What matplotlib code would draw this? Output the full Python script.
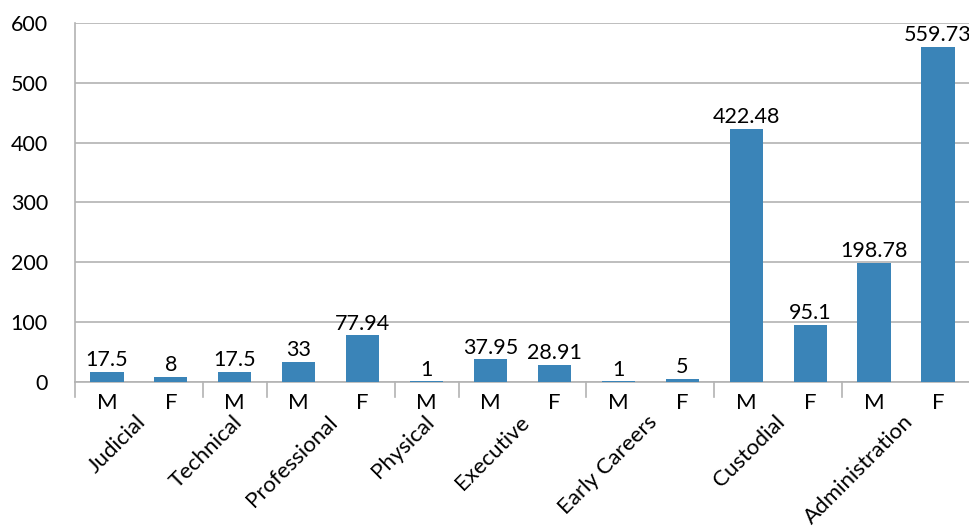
import matplotlib
matplotlib.use("Agg")
import matplotlib.pyplot as plt
from matplotlib.transforms import blended_transform_factory

groups = ["Judicial", "Technical", "Professional", "Physical", "Executive",
          "Early Careers", "Custodial", "Administration"]
group_sexes = [["M", "F"], ["M"], ["M", "F"], ["M"], ["M", "F"], ["M", "F"],
               ["M", "F"], ["M", "F"]]
values = [17.5, 8, 17.5, 33, 77.94, 1, 37.95, 28.91, 1, 5, 422.48, 95.1,
          198.78, 559.73]
value_labels = ["17.5", "8", "17.5", "33", "77.94", "1", "37.95", "28.91",
                "1", "5", "422.48", "95.1", "198.78", "559.73"]
yticks = [0, 100, 200, 300, 400, 500, 600]

plt.rcParams['font.family'] = ['Lato', 'DejaVu Sans']
color = "#3a84b8"
grid_c = "#b3b3b3"

fig = plt.figure(figsize=(9.7, 5.28), dpi=100)
ax = fig.add_axes([0.0773, 0.2765, 0.9227, 0.68])

sexes = [s for g in group_sexes for s in g]
x = list(range(len(values)))
ax.bar(x, values, width=0.52, color=color, zorder=3)
ax.set_xlim(-0.5, len(values) - 0.5)
ax.set_ylim(0, 600)
ax.set_yticks(yticks)
ax.set_yticklabels([str(t) for t in yticks], fontsize=15.5)
ax.tick_params(axis='y', length=0, pad=19.5)
ax.set_xticks([])
ax.yaxis.grid(True, color=grid_c, linewidth=1.2, zorder=0)
for s in ["top", "right"]:
    ax.spines[s].set_visible(False)
ax.spines["left"].set_color(grid_c)
ax.spines["bottom"].set_color(grid_c)
ax.spines["left"].set_linewidth(1.2)
ax.spines["bottom"].set_linewidth(1.2)

for xi, v, lab in zip(x, values, value_labels):
    ax.text(xi, v + 3, lab, ha='center', va='bottom', fontsize=15.5, zorder=4)

trans = blended_transform_factory(ax.transData, ax.transAxes)
# sex labels
for xi, s in zip(x, sexes):
    ax.text(xi, -0.058, s, transform=trans, ha='center', va='center',
            fontsize=16, clip_on=False)

# separators and group labels
pos = 0
bounds = [-0.5]
for g, gs in zip(groups, group_sexes):
    start = pos
    pos += len(gs)
    bounds.append(pos - 0.5)
    center = (start + pos - 1) / 2
    ax.text(center - 0.05, -0.083, g, transform=trans, ha='right', va='top',
            rotation=45, rotation_mode='anchor', fontsize=16, clip_on=False)
for b in bounds:
    ax.plot([b, b], [0, -0.042], transform=trans, color=grid_c, lw=1.2,
            clip_on=False)

fig.savefig("out.png", dpi=100)
